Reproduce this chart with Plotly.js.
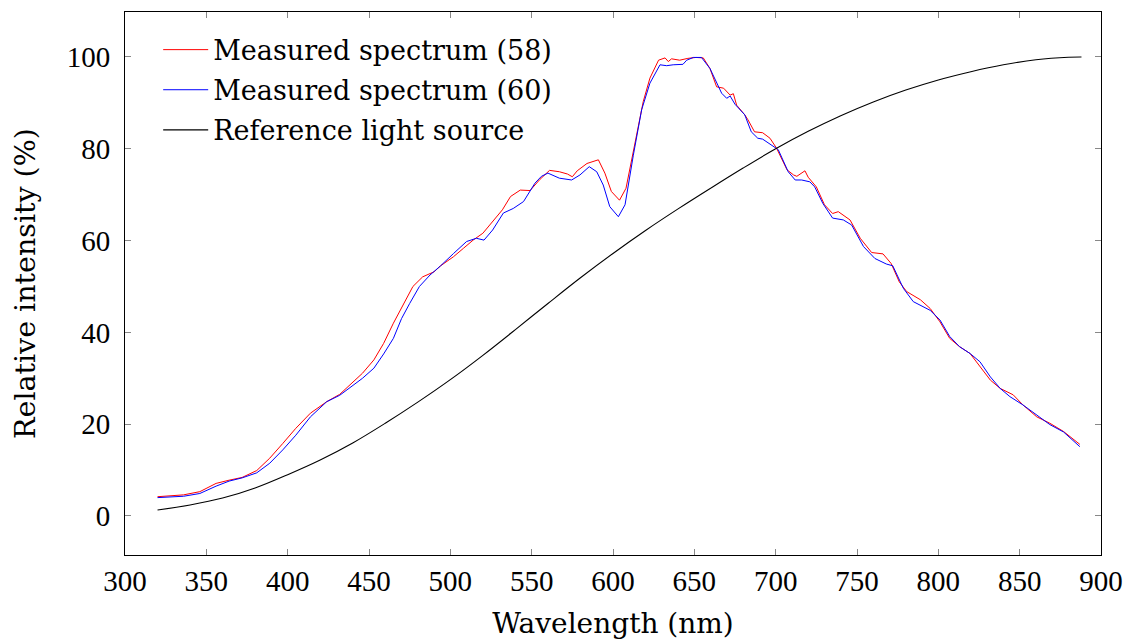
<!DOCTYPE html>
<html>
<head>
<meta charset="utf-8">
<script src="https://cdn.plot.ly/plotly-3.0.1.min.js"></script>
<style>
html,body{margin:0;padding:0;background:#fff;}
#chart{width:1133px;height:640px;}
</style>
</head>
<body>
<div id="chart"></div>
<script>
// Measured spectrum (58) — red
const wl58 = [320,330,336,346,356,364,372,381,389,397,405,414,424,432,438,446,453,459,465,471,477,483,490,494,502,508,514,520,526,532,537,543,549,555,561,567,572,575,578,584,591,595,599,604,608,613.5,618.6,622.7,628,632,634,636,641,646,651,655.5,659.6,663.7,668,672,674,676,681,683,687,692,696.5,700.6,707,711,713,718,720,725,730,735,738.5,745.7,752,759,766,771,776,780.5,789,795,801,807,813,819.5,825.6,832,838,846,852,860.5,868.6,877,887];
const int58 = [4.2,4.4,4.6,5.3,7.1,7.8,8.4,9.9,12.6,15.8,19.1,22.4,24.9,26.5,28.5,31.1,34.0,37.6,42.0,46.0,50.0,52.1,53.2,54.5,56.5,58.3,60.1,61.6,64.1,66.7,69.6,71.0,70.9,73.3,75.3,75.0,74.5,73.9,75.2,76.8,77.6,74.7,70.7,68.8,71.4,81.5,90.3,95.4,99.3,99.8,99.0,99.6,99.3,99.7,99.9,99.8,97.5,93.5,93.2,91.7,92.0,89.5,87.4,86.3,83.7,83.5,82.3,80.1,75.4,74.3,74.0,75.2,73.8,71.7,67.8,65.9,66.3,64.5,60.5,57.4,57.1,55.0,51.0,48.9,47.1,45.2,42.3,38.7,36.9,35.4,32.5,29.6,27.8,26.4,24.2,21.6,20.2,18.4,15.6];

// Measured spectrum (60) — blue
const wl60 = [320,336,346,356,364,372,381,389,397,405,414,424,432,438,446,453,459,465,470,475,481,487.5,494,502,510,516,520.7,526,532.6,538.7,545,552,556,560,567,574.6,579.7,585.4,590,594,598,603.3,607.4,612.5,617.6,622.7,628.9,633,637,643,645.3,649.4,654.4,659.6,663.7,666.8,669.9,672,675,681,685,689,692,697.5,701.6,707.7,712,716,721,724,729,735,741.6,746.7,754,761,768,772,778.5,784.6,792.8,795,801,807,813,819.5,825.6,832,838,844,852,860.5,868.6,877,887];
const int60 = [4.0,4.3,4.9,6.5,7.6,8.3,9.4,11.5,14.4,17.6,21.6,24.9,26.3,27.8,30.0,32.2,35.3,38.7,43.0,46.3,50.0,52.5,54.5,57.2,59.8,60.5,60.1,62.3,66.0,67.0,68.5,72.5,74.0,74.7,73.6,73.2,74.3,76.1,75.0,72.1,67.4,65.2,67.8,78.6,88.5,94.3,98.3,98.1,98.3,98.4,99.3,99.9,99.9,97.5,94.6,92.1,91.0,91.5,89.7,87.4,83.7,82.3,82.1,80.8,79.8,75.0,73.2,73.2,72.8,71.7,68.1,64.9,64.5,63.4,58.7,56.1,54.9,54.5,49.6,46.7,45.2,44.8,42.7,39.1,36.9,35.4,33.6,30.3,27.8,26.0,24.2,21.9,19.9,18.3,15.1];

// Reference light source — black
const wlRef = [320,340,360,380,400,420,440,460,480,500,520,540,560,580,600,620,640,660,680,700,720,740,760,780,800,820,840,860,880,888];
const intRef = [1.3,2.4,3.9,6.1,9.0,12.2,15.9,20.2,24.8,29.7,35.0,40.6,46.3,51.9,57.2,62.2,66.9,71.4,75.8,80.0,83.8,87.2,90.2,92.8,95.0,96.8,98.3,99.4,99.95,100];

const seriesNames = ['Measured spectrum (58)','Measured spectrum (60)','Reference light source'];
const xTickVals = [300,350,400,450,500,550,600,650,700,750,800,850,900];
const yTickVals = [0,20,40,60,80,100];

const serif = 'DejaVu Serif, serif';
const tickFont = {family:'Liberation Serif, serif', size:29, color:'#000'};

const traces = [
  {x:wl58, y:int58, name:seriesNames[0], legendgroup:'a', mode:'lines', line:{color:'#ff0000', width:1}},
  {x:wl60, y:int60, name:seriesNames[1], legendgroup:'b', mode:'lines', line:{color:'#0000ff', width:1}},
  {x:wlRef, y:intRef, name:seriesNames[2], legendgroup:'c', mode:'lines', line:{color:'#000000', width:1.1, shape:'spline'}}
];

const layout = {
  width:1133, height:640,
  margin:{l:125, r:32, t:12, b:85},
  paper_bgcolor:'#fff', plot_bgcolor:'#fff',
  showlegend:true,
  legend:{x:0.034, y:0.975, xanchor:'left', yanchor:'top', bgcolor:'rgba(0,0,0,0)', borderwidth:0,
          font:{family:serif, size:27, color:'#000'}, itemwidth:45, tracegroupgap:2},
  xaxis:{range:[300,900], tickvals:xTickVals, ticks:'inside', ticklen:6, tickcolor:'#888', tickwidth:1,
         showline:true, linecolor:'#000', linewidth:1, mirror:'ticks', showgrid:false, zeroline:false,
         tickfont:tickFont, ticklabelstandoff:0,
         title:{text:'Wavelength (nm)', font:{family:serif, size:28, color:'#000'}, standoff:17}},
  yaxis:{range:[-8.5,109.8], tickvals:yTickVals, ticks:'inside', ticklen:6, tickcolor:'#888', tickwidth:1,
         showline:true, linecolor:'#000', linewidth:1, mirror:'ticks', showgrid:false, zeroline:false,
         tickfont:tickFont, ticklabelstandoff:8,
         title:{text:'Relative intensity (%)', font:{family:serif, size:28.5, color:'#000'}, standoff:22}}
};

Plotly.newPlot('chart', traces, layout, {displayModeBar:false, staticPlot:true});
</script>
</body>
</html>
